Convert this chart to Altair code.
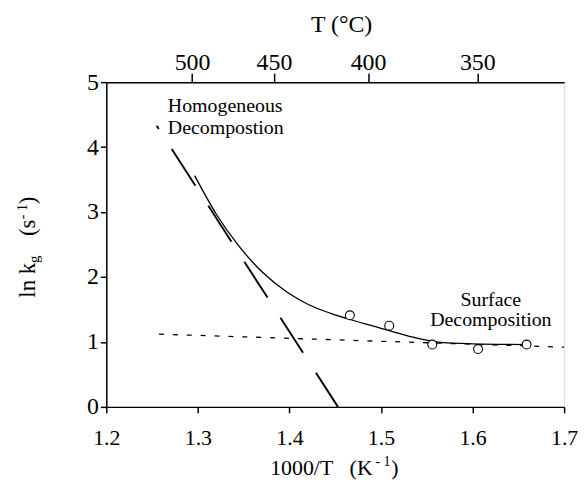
import altair as alt
import pandas as pd

FONT = "Liberation Serif"

# ---- data ----
x_ticks = [1.2, 1.3, 1.4, 1.5, 1.6, 1.7]
y_ticks = [0, 1, 2, 3, 4, 5]
temps_c = [500, 450, 400, 350]

pts_x = [1.466, 1.509, 1.556, 1.606, 1.659]
pts_y = [1.41, 1.25, 0.96, 0.89, 0.96]

curve_x = [1.2965, 1.32, 1.344, 1.37, 1.398, 1.42, 1.445, 1.47, 1.50, 1.53, 1.56, 1.60, 1.659]
curve_y = [3.56, 2.97, 2.49, 2.08, 1.76, 1.58, 1.44, 1.33, 1.21, 1.09, 1.00, 0.97, 0.96]

homog_x = [1.255, 1.453]
homog_y = [4.33, 0.0]

surf_x = [1.2575, 1.70]
surf_y = [1.12, 0.92]

labels_txt = ["Homogeneous", "Decompostion", "Surface", "Decomposition"]
labels_x = [1.2672, 1.2672, 1.62, 1.62]
labels_y = [4.63, 4.30, 1.65, 1.33]
labels_align = ["left", "left", "center", "center"]

top_vals = [1000.0 / (t + 273.0) for t in temps_c]

# ---- tables ----
df_pts = pd.DataFrame({"x": pts_x, "y": pts_y})
df_curve = pd.DataFrame({"x": curve_x, "y": curve_y})
df_homog = pd.DataFrame({"x": homog_x, "y": homog_y})
df_surf = pd.DataFrame({"x": surf_x, "y": surf_y})
df_lab = pd.DataFrame({"t": labels_txt, "x": labels_x, "y": labels_y, "a": labels_align})

xs = alt.Scale(domain=[1.2, 1.7], nice=False, zero=False)
ys = alt.Scale(domain=[0, 5], nice=False, zero=True)

common_axis = dict(grid=False, title=None, domainColor="black", tickColor="black",
                   labelColor="black", labelFont=FONT, domainWidth=1.5, tickWidth=1.5,
                   labelOverlap=False, labelFlush=False)

bottom_axis = alt.Axis(values=x_ticks, format=".1f", orient="bottom", tickSize=6,
                       labelFontSize=22, labelPadding=32, labelBaseline="alphabetic",
                       **common_axis)
top_axis = alt.Axis(values=top_vals, orient="top", tickSize=9, labelFontSize=24,
                    labelPadding=4, labelBaseline="alphabetic",
                    labelExpr="format(1000/datum.value - 273, '.0f')", **common_axis)
left_axis = alt.Axis(values=y_ticks, format="d", orient="left", tickSize=6,
                     labelFontSize=24, labelPadding=2, **common_axis)

curve = alt.Chart(df_curve).mark_line(color="black", strokeWidth=1.3, interpolate="monotone").encode(
    x=alt.X("x:Q", scale=xs, axis=bottom_axis),
    y=alt.Y("y:Q", scale=ys, axis=left_axis),
)

homog = alt.Chart(df_homog).mark_line(color="black", strokeWidth=1.9,
                                      strokeDash=[4, 24, 44, 24, 43, 24, 43, 24, 42, 24, 60]).encode(
    x=alt.X("x:Q", scale=xs, axis=top_axis),
    y=alt.Y("y:Q", scale=ys, axis=None),
)

surf = alt.Chart(df_surf).mark_line(color="black", strokeWidth=1.3, strokeDash=[5, 9]).encode(
    x=alt.X("x:Q", scale=xs, axis=None),
    y=alt.Y("y:Q", scale=ys, axis=None),
)

pts = alt.Chart(df_pts).mark_point(shape="circle", size=80, filled=False, fill="white",
                                   fillOpacity=1, stroke="black", strokeWidth=1.1, opacity=1).encode(
    x=alt.X("x:Q", scale=xs, axis=None),
    y=alt.Y("y:Q", scale=ys, axis=None),
)

ann_left = alt.Chart(df_lab[df_lab.a == "left"]).mark_text(
    font=FONT, fontSize=20, align="left", baseline="middle", color="black").encode(
    x=alt.X("x:Q", scale=xs, axis=None), y=alt.Y("y:Q", scale=ys, axis=None), text="t:N")
ann_center = alt.Chart(df_lab[df_lab.a == "center"]).mark_text(
    font=FONT, fontSize=20, align="center", baseline="middle", color="black").encode(
    x=alt.X("x:Q", scale=xs, axis=None), y=alt.Y("y:Q", scale=ys, axis=None), text="t:N")


def piece(txt, px, py, size, angle=0):
    d = pd.DataFrame({"t": [txt]})
    kw = dict(font=FONT, fontSize=size, align="left", baseline="alphabetic", color="black")
    if angle:
        kw["angle"] = angle
    return alt.Chart(d).mark_text(**kw).encode(x=alt.value(px), y=alt.value(py), text="t:N")


# axis titles built from text pieces (sub/superscripts)
titles = [
    piece("T (°C)", 206, -51, 24),
    piece("1000/T", 165, 396, 22),
    piece("(K", 245, 396, 22),
    piece("- 1", 271, 387, 14),
    piece(")", 287, 396, 22),
    piece("ln k", -72, 217, 23, 270),
    piece("g", -68, 182, 15, 270),
    piece("(s", -72, 155, 23, 270),
    piece("- 1", -80, 138, 14, 270),
    piece(")", -72, 123, 23, 270),
]

chart = alt.layer(curve, homog, surf, pts, ann_left, ann_center, *titles).resolve_axis(
    x="independent", y="independent"
).properties(
    width=461, height=327,
    padding={"left": 99, "top": 73, "right": 16, "bottom": 78},
    autosize=alt.AutoSizeParams(type="none"),
    background="white",
).configure_view(stroke="black", strokeWidth=1.5).configure(font=FONT).configure_axis(
    labelFont=FONT, titleFont=FONT
).configure_text(font=FONT)

chart.save("out.html", embed_options={"renderer": "svg", "actions": False})
